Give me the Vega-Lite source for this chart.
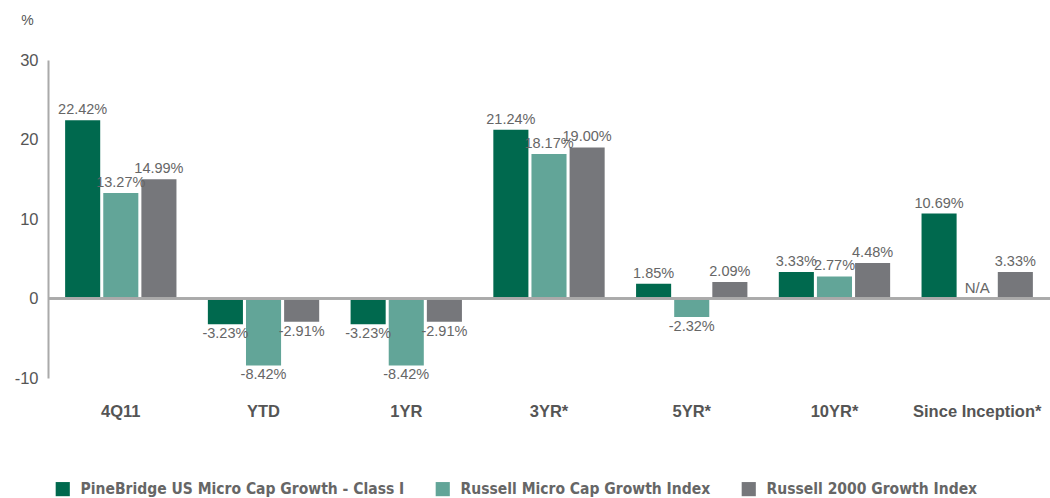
{
  "$schema": "https://vega.github.io/schema/vega-lite/v6.json",
  "width": 1002,
  "height": 318,
  "autosize": {"type": "none"},
  "padding": {"left": 48, "top": 60, "right": 0, "bottom": 120},
  "background": "white",
  "config": {
    "view": {"stroke": null},
    "font": "Liberation Sans",
    "axis": {"grid": false, "ticks": false},
    "locale": {"number": {"decimal": ".", "thousands": ",", "grouping": [3], "currency": ["$", ""], "minus": "-"}}
  },
  "data": {
    "values": [
      {"period": "4Q11", "series": "PineBridge US Micro Cap Growth - Class I", "value": 22.42},
      {"period": "4Q11", "series": "Russell Micro Cap Growth Index", "value": 13.27},
      {"period": "4Q11", "series": "Russell 2000 Growth Index", "value": 14.99},
      {"period": "YTD", "series": "PineBridge US Micro Cap Growth - Class I", "value": -3.23},
      {"period": "YTD", "series": "Russell Micro Cap Growth Index", "value": -8.42},
      {"period": "YTD", "series": "Russell 2000 Growth Index", "value": -2.91},
      {"period": "1YR", "series": "PineBridge US Micro Cap Growth - Class I", "value": -3.23},
      {"period": "1YR", "series": "Russell Micro Cap Growth Index", "value": -8.42},
      {"period": "1YR", "series": "Russell 2000 Growth Index", "value": -2.91},
      {"period": "3YR*", "series": "PineBridge US Micro Cap Growth - Class I", "value": 21.24},
      {"period": "3YR*", "series": "Russell Micro Cap Growth Index", "value": 18.17},
      {"period": "3YR*", "series": "Russell 2000 Growth Index", "value": 19.0},
      {"period": "5YR*", "series": "PineBridge US Micro Cap Growth - Class I", "value": 1.85},
      {"period": "5YR*", "series": "Russell Micro Cap Growth Index", "value": -2.32},
      {"period": "5YR*", "series": "Russell 2000 Growth Index", "value": 2.09},
      {"period": "10YR*", "series": "PineBridge US Micro Cap Growth - Class I", "value": 3.33},
      {"period": "10YR*", "series": "Russell Micro Cap Growth Index", "value": 2.77},
      {"period": "10YR*", "series": "Russell 2000 Growth Index", "value": 4.48},
      {"period": "Since Inception*", "series": "PineBridge US Micro Cap Growth - Class I", "value": 10.69},
      {"period": "Since Inception*", "series": "Russell Micro Cap Growth Index", "value": null},
      {"period": "Since Inception*", "series": "Russell 2000 Growth Index", "value": 3.33}
    ]
  },
  "encoding": {
    "x": {
      "field": "period", "type": "nominal",
      "scale": {"domain": ["4Q11", "YTD", "1YR", "3YR*", "5YR*", "10YR*", "Since Inception*"], "paddingInner": 0.22, "paddingOuter": 0.12},
      "axis": {"title": null, "labelAngle": 0, "domain": false, "labelPadding": 25, "labelFontSize": 16.5, "labelFontWeight": "bold", "labelColor": "#555555", "labelFont": "Liberation Sans"}
    },
    "xOffset": {
      "field": "series", "type": "nominal",
      "scale": {"domain": ["PineBridge US Micro Cap Growth - Class I", "Russell Micro Cap Growth Index", "Russell 2000 Growth Index"], "paddingInner": 0.08}
    }
  },
  "layer": [
    {
      "mark": {"type": "bar"},
      "encoding": {
        "y": {
          "field": "value", "type": "quantitative",
          "scale": {"domain": [-10, 30], "nice": false},
          "axis": {"title": "%", "titleAngle": 0, "titleX": -21, "titleY": -40, "titleAlign": "center", "titleBaseline": "middle", "titleFontSize": 14, "titleFontWeight": "normal", "titleColor": "#555555", "values": [-10, 0, 10, 20, 30], "labelFontSize": 16.5, "labelColor": "#555555", "labelPadding": 10, "domainColor": "#aaaaaa", "domainWidth": 2}
        },
        "color": {
          "field": "series", "type": "nominal",
          "scale": {"domain": ["PineBridge US Micro Cap Growth - Class I", "Russell Micro Cap Growth Index", "Russell 2000 Growth Index"], "range": ["#00694E", "#62A598", "#76777B"]},
          "legend": {"title": null, "orient": "none", "legendX": 7, "legendY": 421, "direction": "horizontal", "symbolType": "square", "symbolSize": 200, "symbolStrokeWidth": 0, "labelFontSize": 15.5, "labelFont": "DejaVu Sans Condensed", "labelFontWeight": "bold", "labelColor": "#666666", "columnPadding": 30, "labelLimit": 400, "labelOffset": 10}
        }
      }
    },
    {
      "mark": {"type": "rule", "color": "#aaaaaa", "strokeWidth": 1.5},
      "encoding": {"y": {"datum": 0, "type": "quantitative"}, "x": {"value": 0}, "x2": {"value": 1002}, "xOffset": null}
    },
    {
      "transform": [{"filter": "datum.value != null && datum.value >= 0"}, {"calculate": "format(datum.value, '.2f') + '%'", "as": "label"}],
      "mark": {"type": "text", "baseline": "bottom", "dy": -3, "fontSize": 14.5, "color": "#666666"},
      "encoding": {
        "y": {"field": "value", "type": "quantitative"},
        "text": {"field": "label", "type": "nominal"}
      }
    },
    {
      "transform": [{"filter": "datum.value != null && datum.value < 0"}, {"calculate": "format(datum.value, '.2f') + '%'", "as": "label"}],
      "mark": {"type": "text", "baseline": "top", "dy": 3, "fontSize": 14.5, "color": "#666666"},
      "encoding": {
        "y": {"field": "value", "type": "quantitative"},
        "text": {"field": "label", "type": "nominal"}
      }
    },
    {
      "transform": [{"filter": "datum.value == null"}],
      "mark": {"type": "text", "baseline": "bottom", "dy": -3, "fontSize": 15, "color": "#666666", "text": "N/A"},
      "encoding": {
        "y": {"datum": 0, "type": "quantitative"}
      }
    }
  ]
}
